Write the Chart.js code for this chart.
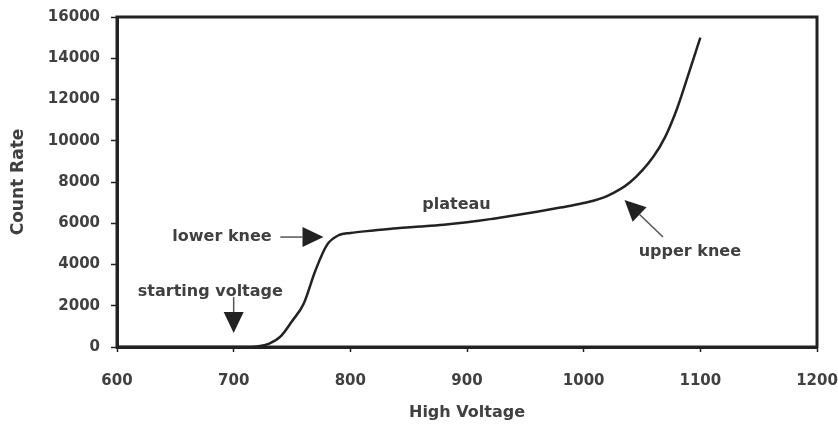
<!DOCTYPE html>
<html>
<head>
<meta charset="utf-8">
<script src="https://cdn.jsdelivr.net/npm/chart.js@4"></script>
<style>
  html, body { margin: 0; padding: 0; background: #fff; }
  #wrap { width: 838px; height: 432px; }
</style>
</head>
<body>
<div id="wrap"><canvas id="plateauChart" width="838" height="432"></canvas></div>
<script>
// values
const voltage = [600, 650, 700, 710, 720, 730, 740, 750, 760, 770, 780, 790, 800, 820, 840, 860, 880, 900, 920, 940, 960, 980, 1000, 1020, 1040, 1060, 1070, 1080, 1090, 1100];
const countRate = [0, 0, 0, 0, 30, 150, 500, 1250, 2100, 3700, 4950, 5420, 5530, 5650, 5760, 5840, 5930, 6050, 6200, 6380, 6560, 6760, 6980, 7320, 8000, 9250, 10200, 11550, 13250, 15000];

const xTicks = [600, 700, 800, 900, 1000, 1100, 1200];
const yTicks = [0, 2000, 4000, 6000, 8000, 10000, 12000, 14000, 16000];

// annotations (text anchors and arrows in data units)
const noteText = ['starting voltage', 'lower knee', 'plateau', 'upper knee'];
const noteX = [680, 690, 891, 1091];
const noteY = [2670, 5330, 6890, 4610];
const arrowFromX = [700, 740, null, 1068];
const arrowFromY = [2420, 5330, null, 5330];
const arrowToX = [700, 777, null, 1035];
const arrowToY = [680, 5330, null, 7130];

const ink = '#222';
const textInk = '#404040';

const frame = {
  id: 'frame',
  afterDraw(chart) {
    const { ctx, chartArea: a } = chart;
    ctx.save();
    ctx.strokeStyle = ink;
    ctx.lineWidth = 3;
    ctx.strokeRect(a.left, a.top, a.right - a.left, a.bottom - a.top);
    ctx.restore();
  }
};

const notes = {
  id: 'notes',
  afterDraw(chart) {
    const { ctx, scales: { x, y } } = chart;
    ctx.save();
    ctx.font = 'bold 16px "DejaVu Sans"';
    ctx.textAlign = 'center';
    ctx.textBaseline = 'middle';
    noteText.forEach((t, i) => {
      ctx.fillStyle = textInk;
      ctx.fillText(t, x.getPixelForValue(noteX[i]), y.getPixelForValue(noteY[i]));
      if (arrowFromX[i] === null) return;
      const x0 = x.getPixelForValue(arrowFromX[i]), y0 = y.getPixelForValue(arrowFromY[i]);
      const x1 = x.getPixelForValue(arrowToX[i]), y1 = y.getPixelForValue(arrowToY[i]);
      const ang = Math.atan2(y1 - y0, x1 - x0);
      const headLen = 21, headHalf = 10;
      const bx = x1 - headLen * Math.cos(ang), by = y1 - headLen * Math.sin(ang);
      ctx.strokeStyle = '#555';
      ctx.lineWidth = 1.5;
      ctx.beginPath();
      ctx.moveTo(x0, y0);
      ctx.lineTo(bx, by);
      ctx.stroke();
      ctx.fillStyle = ink;
      ctx.beginPath();
      ctx.moveTo(x1, y1);
      ctx.lineTo(bx + headHalf * Math.sin(ang), by - headHalf * Math.cos(ang));
      ctx.lineTo(bx - headHalf * Math.sin(ang), by + headHalf * Math.cos(ang));
      ctx.closePath();
      ctx.fill();
    });
    ctx.restore();
  }
};

const tickFont = { family: 'DejaVu Sans', size: 15, weight: 'bold' };
const titleFont = { family: 'DejaVu Sans', size: 16, weight: 'bold' };

const ctx = document.getElementById('plateauChart').getContext('2d');
new Chart(ctx, {
  type: 'line',
  data: {
    datasets: [{
      label: 'Count Rate',
      data: voltage.map((v, i) => ({ x: v, y: countRate[i] })),
      borderColor: ink,
      borderWidth: 2.5,
      pointRadius: 0,
      fill: false,
      cubicInterpolationMode: 'monotone'
    }]
  },
  options: {
    responsive: false,
    animation: false,
    layout: { padding: { top: 17, right: 21, left: 0, bottom: 0 } },
    plugins: { legend: { display: false }, tooltip: { enabled: false } },
    scales: {
      x: {
        type: 'linear',
        min: 600,
        max: 1200,
        afterFit(s) { s.height = 85; s.paddingLeft = 0; s.paddingRight = 0; },
        afterBuildTicks(s) { s.ticks = xTicks.map(v => ({ value: v })); },
        grid: { drawOnChartArea: false, tickLength: 5, color: ink, tickWidth: 1.5 },
        border: { color: ink, width: 3 },
        ticks: { color: textInk, padding: 20, maxRotation: 0, font: tickFont, callback: v => String(v) },
        title: { display: true, text: 'High Voltage', color: textInk, padding: { top: 0, bottom: 10 }, font: titleFont }
      },
      y: {
        min: 0,
        max: 16000,
        afterFit(s) { s.width = 117; s.paddingTop = 0; s.paddingBottom = 0; },
        afterBuildTicks(s) { s.ticks = yTicks.map(v => ({ value: v })); },
        grid: { drawOnChartArea: false, tickLength: 6, color: ink, tickWidth: 1.5 },
        border: { color: ink, width: 3 },
        ticks: { color: textInk, padding: 11, font: tickFont, callback: v => String(v) },
        title: { display: true, text: 'Count Rate', color: textInk, padding: { top: 8, bottom: 0 }, font: { family: 'DejaVu Sans', size: 17, weight: 'bold' } }
      }
    }
  },
  plugins: [frame, notes]
});
</script>
</body>
</html>
